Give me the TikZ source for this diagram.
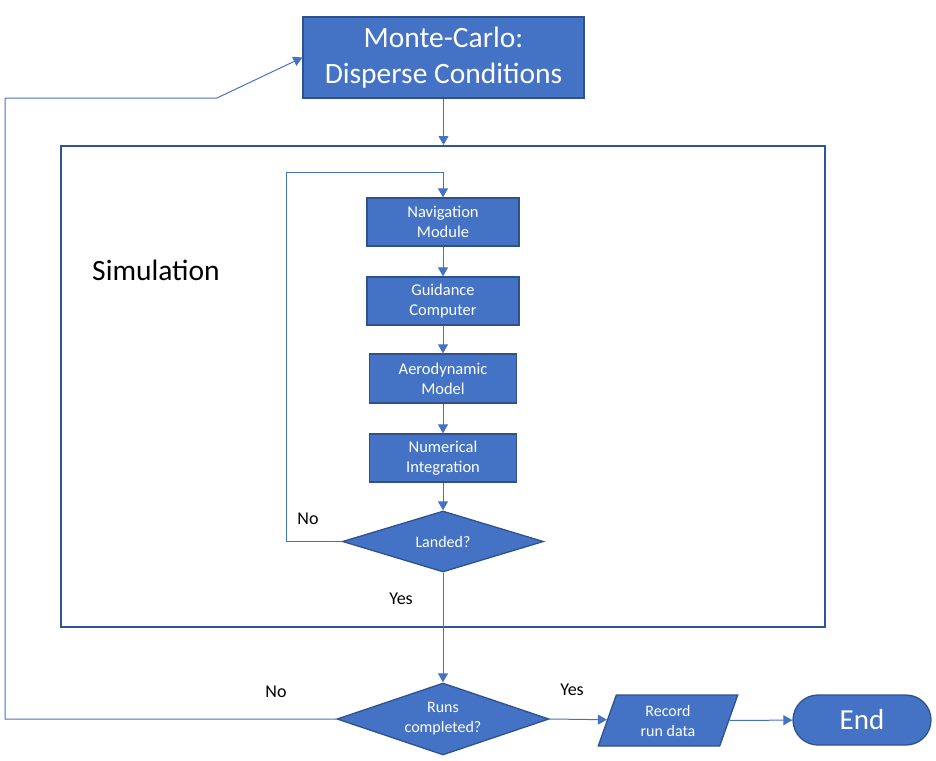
\documentclass[tikz,border=0pt]{standalone}
\usepackage{fontspec}
\setmainfont{Carlito}
\usepackage{xcolor}
\usepackage{tikz}
\usetikzlibrary{arrows.meta,shapes.geometric,shapes.misc}
\definecolor{boxBlue}{HTML}{4472C4}
\definecolor{edgeBlue}{HTML}{2F528F}
\definecolor{frameBlue}{HTML}{2F5597}

\begin{document}
\begin{tikzpicture}[x=1pt,y=-1pt,
procBox/.style={shape=rectangle,draw=edgeBlue,fill=boxBlue,line width=1.3pt,
    text=white,align=center,inner sep=0,font=\fontsize{16.5}{20}\selectfont},
bigBox/.style={procBox,font=\fontsize{29.5}{36}\selectfont},
decision/.style={shape=diamond,draw=edgeBlue,fill=boxBlue,line width=1.3pt,
    text=white,align=center,inner sep=0,font=\fontsize{16}{20}\selectfont},
ioBox/.style={shape=trapezium,trapezium left angle=73,trapezium right angle=107,
    trapezium stretches=true,draw=edgeBlue,fill=boxBlue,line width=1.3pt,
    text=white,align=center,inner sep=0,font=\fontsize{16}{20}\selectfont},
termBox/.style={shape=rounded rectangle,draw=edgeBlue,fill=boxBlue,line width=1.3pt,
    text=white,inner sep=0,font=\fontsize{29}{34}\selectfont},
simFrame/.style={shape=rectangle,draw=frameBlue,line width=2pt,inner sep=0},
myLabel/.style={inner sep=0,font=\fontsize{18}{22}\selectfont},
myArrow/.style={-{Triangle[length=9pt,width=10pt]},draw=boxBlue,line width=1pt}
]
\useasboundingbox (0,0) rectangle (936,760);
\node[simFrame,minimum width=764,minimum height=481] (sim) at (443,386.5) {};
\node[inner sep=0,font=\fontsize{29.5}{34}\selectfont] (simText) at (156,270) {Simulation};
\node[bigBox,minimum width=281,minimum height=81] (mc) at (443.5,57.5) {Monte-Carlo:\\Disperse Conditions};
\node[procBox,minimum width=152,minimum height=48] (nav) at (443,222) {Navigation\\Module};
\node[procBox,minimum width=152,minimum height=48] (guid) at (443,301) {Guidance\\Computer};
\node[procBox,minimum width=147,minimum height=49] (aero) at (443,378.5) {Aerodynamic\\Model};
\node[procBox,minimum width=147,minimum height=48] (num) at (443,458) {Numerical\\Integration};
\node[decision,aspect=3.3,minimum width=201,minimum height=61] (landed) at (443,541.5) {Landed?};
\node[decision,aspect=2.94,minimum width=212,minimum height=72] (runs) at (443,719) {Runs\\completed?};
\node[ioBox,minimum width=140,minimum height=51] (rec) at (668,720.5) {Record\\run data};
\node[termBox,minimum width=138,minimum height=50] (fin) at (862,720) {End};
\node[myLabel] (noIn) at (308,519) {No};
\node[myLabel] (yesIn) at (401,599) {Yes};
\node[myLabel] (noOut) at (276,692) {No};
\node[myLabel] (yesOut) at (572,690) {Yes};
% main column
\draw[myArrow] (mc.south) -- (mc.south |- sim.north);
\draw[myArrow] (nav) -- (guid);
\draw[myArrow] (guid) -- (aero);
\draw[myArrow] (aero) -- (num);
\draw[myArrow] (num) -- (landed);
\draw[myArrow] (landed) -- (runs);
% loops back
\draw[myArrow] (landed.west) -- (286,541.5) -- (286,172) -- (443,172) -- (nav.north);
\draw[myArrow] (runs.west) -- (5,719) -- (5,98) -- (217,98) -- (mc.west);
% finish
\draw[myArrow] (runs.east) -- (rec);
\draw[myArrow] (rec) -- (fin);
\end{tikzpicture}
\end{document}
